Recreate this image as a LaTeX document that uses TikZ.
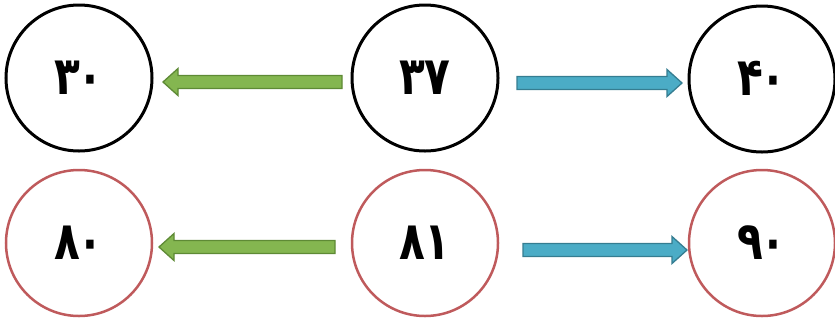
\documentclass[tikz,border=0pt]{standalone}
\usepackage{fontspec}
\newfontfamily\arabicfont[Script=Arabic]{DejaVu Sans}
\usetikzlibrary{calc}
\definecolor{gfill}{HTML}{84B650}
\definecolor{gline}{HTML}{5E8A35}
\definecolor{bfill}{HTML}{4BACC6}
\definecolor{bline}{HTML}{357D91}
\definecolor{rline}{HTML}{BF5A5C}
\newcommand{\aw}{6.5bp}
\newcommand{\ah}{13.5bp}
\newcommand{\al}{15bp}
\newcommand{\numtxt}[1]{\scalebox{0.8}[1]{#1}}
\tikzset{
  numcirc/.style={circle, draw=black, line width=3bp, minimum size=146bp, inner sep=0pt, outer sep=0pt,
    text height=42bp, text depth=10bp,
    font=\arabicfont\bfseries\fontsize{53}{53}\selectfont},
  redcirc/.style={numcirc, draw=rline, line width=2.5bp},
  fatarrow/.style={line width=1.3bp, line join=miter, to path={
    ($(\tikztostart)!\aw!90:(\tikztotarget)$)
    -- ($($(\tikztotarget)!\al!(\tikztostart)$)!\aw!90:(\tikztotarget)$)
    -- ($($(\tikztotarget)!\al!(\tikztostart)$)!\ah!90:(\tikztotarget)$)
    -- (\tikztotarget)
    -- ($($(\tikztotarget)!\al!(\tikztostart)$)!\ah!-90:(\tikztotarget)$)
    -- ($($(\tikztotarget)!\al!(\tikztostart)$)!\aw!-90:(\tikztotarget)$)
    -- ($(\tikztostart)!\aw!-90:(\tikztotarget)$) -- cycle}},
  greenarrow/.style={fatarrow, fill=gfill, draw=gline},
  bluearrow/.style={fatarrow, fill=bfill, draw=bline}
}
\begin{document}
\begin{tikzpicture}[x=1bp, y=-1bp]
\useasboundingbox (0,0) rectangle (835,322);
\node[numcirc] (n30) at (79,78) {\numtxt{۳\kern-3bp۰}};
\node[numcirc] (n37) at (425,78) {\numtxt{۳۷}};
\node[numcirc] (n40) at (762,79) {\numtxt{۴\kern-3bp۰}};
\node[redcirc] (n80) at (79,243) {\numtxt{۸\kern-3bp۰}};
\node[redcirc] (n81) at (425,243) {\numtxt{۸۱}};
\node[redcirc] (n90) at (762,243) {\numtxt{۹\kern-3bp۰}};
\coordinate (g1s) at ([shift={(-10,4)}]n37.west);
\coordinate (g1t) at ([shift={(11,4)}]n30.east);
\coordinate (b1s) at ([shift={(19,5)}]n37.east);
\coordinate (b1t) at ([shift={(-7,4)}]n40.west);
\coordinate (g2s) at ([shift={(-17,4)}]n81.west);
\coordinate (g2t) at ([shift={(7,4)}]n80.east);
\coordinate (b2s) at ([shift={(25,7)}]n81.east);
\coordinate (b2t) at ([shift={(-2,7)}]n90.west);
\path[greenarrow] (g1s) to (g1t);
\path[bluearrow] (b1s) to (b1t);
\path[greenarrow] (g2s) to (g2t);
\path[bluearrow] (b2s) to (b2t);
\end{tikzpicture}
\end{document}
